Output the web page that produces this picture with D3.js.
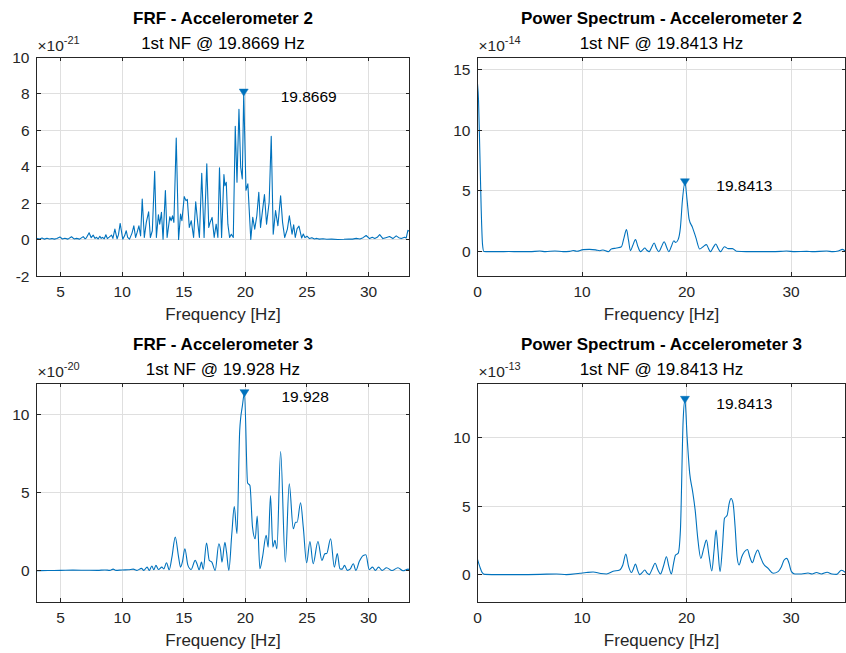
<!DOCTYPE html>
<html><head><meta charset="utf-8">
<script src="https://cdn.jsdelivr.net/npm/d3@7"></script>
<style>
body{margin:0;background:#fff}
svg{display:block}
text{font-family:"Liberation Sans",Arial,Helvetica,sans-serif;fill:#262626}
</style>
</head><body>
<svg id="chart" width="846" height="653"></svg>
<script>
// ---------- DATA ----------
const titles = ["FRF - Accelerometer 2","Power Spectrum - Accelerometer 2","FRF - Accelerometer 3","Power Spectrum - Accelerometer 3"];
const subtitles = ["1st NF @ 19.8669 Hz","1st NF @ 19.8413 Hz","1st NF @ 19.928 Hz","1st NF @ 19.8413 Hz"];
const exponents = ["-21","-14","-20","-13"];
const xLabel = "Frequency [Hz]";
const xTicksFRF = [5,10,15,20,25,30];
const xTicksPS = [0,10,20,30];
const yTicksFRF2 = [-2,0,2,4,6,8,10];
const yTicksPS2 = [0,5,10,15];
const yTicksFRF3 = [0,5,10];
const yTicksPS3 = [0,5,10];
const peakFreqs = [19.8669,19.8413,19.928,19.8413];
const peakLabels = ["19.8669","19.8413","19.928","19.8413"];

// [frequency (Hz), magnitude (x 10^exp)]
const frfAcc2 = [[3.05,0.06],[3.3,0.03],[3.5,0.08],[3.7,0.02],[3.9,0.07],[4.1,0.03],[4.3,0.05],[4.5,0.02],[4.7,0.06],[4.95,0.14],[5.15,0.03],[5.35,0.07],[5.6,0.02],[5.89,0.15],[6.1,0.03],[6.3,0.06],[6.55,0.02],[6.84,0.16],[7.0,0.04],[7.1,0.09],[7.32,0.37],[7.49,0.1],[7.65,0.24],[7.8,0.06],[7.92,0.12],[8.05,0.03],[8.19,0.18],[8.3,0.06],[8.4,0.12],[8.55,0.04],[8.68,0.26],[8.8,0.05],[8.95,0.13],[9.14,0.24],[9.25,0.06],[9.41,0.57],[9.59,0.04],[9.7,0.25],[9.84,0.88],[10.05,0.02],[10.2,0.2],[10.33,0.48],[10.45,0.12],[10.6,0.02],[10.8,0.35],[10.95,0.75],[11.09,0.11],[11.22,0.4],[11.36,0.75],[11.5,0.2],[11.63,2.22],[11.8,0.11],[11.96,0.94],[12.15,1.52],[12.29,0.11],[12.45,0.48],[12.64,3.74],[12.78,0.11],[12.94,1.36],[13.05,0.84],[13.19,1.49],[13.32,0.02],[13.51,2.68],[13.65,0.11],[13.87,1.25],[13.98,1.03],[14.09,1.3],[14.2,0.94],[14.39,5.56],[14.58,0.0],[14.74,1.39],[14.85,1.03],[15.04,2.35],[15.18,2.13],[15.29,2.2],[15.45,0.66],[15.61,1.03],[15.8,0.11],[15.97,2.07],[16.13,0.94],[16.27,0.11],[16.46,3.63],[16.65,0.11],[16.87,4.15],[17.03,0.66],[17.14,0.94],[17.3,1.21],[17.47,0.11],[17.63,0.84],[17.77,0.11],[17.9,3.93],[18.07,0.11],[18.26,3.56],[18.34,2.95],[18.45,3.13],[18.58,0.84],[18.72,0.11],[18.86,0.29],[19.02,0.11],[19.18,6.2],[19.32,3.14],[19.48,7.14],[19.62,3.96],[19.75,3.32],[19.8669,8.05],[20.05,2.7],[20.2,3.05],[20.44,0.0],[20.6,1.21],[20.76,0.57],[20.93,1.3],[21.09,2.59],[21.23,0.66],[21.39,1.58],[21.55,2.46],[21.72,0.84],[21.93,2.04],[22.1,5.65],[22.26,0.29],[22.45,1.58],[22.64,0.75],[22.86,2.39],[23.02,0.94],[23.19,0.11],[23.41,0.57],[23.57,1.3],[23.79,0.29],[23.92,0.8],[24.05,0.11],[24.2,0.6],[24.35,0.73],[24.57,0.08],[24.7,0.3],[24.84,0.1],[25.0,0.18],[25.2,0.05],[25.4,0.1],[25.6,0.03],[25.8,0.06],[26.0,0.02],[26.3,0.04],[26.6,0.01],[27.0,0.02],[27.5,0.0],[28.0,0.01],[28.4,0.03],[28.7,0.02],[29.0,0.06],[29.3,0.03],[29.55,0.1],[29.8,0.22],[30.08,0.05],[30.3,0.12],[30.5,0.06],[30.7,0.12],[30.9,0.27],[31.16,0.05],[31.4,0.1],[31.7,0.16],[31.97,0.05],[32.24,0.2],[32.45,0.1],[32.65,0.05],[32.92,0.12],[33.05,0.08],[33.19,0.5],[33.32,0.45]];

const psAcc2 = [[0,13.8],[0.1,12.4],[0.22,8.3],[0.35,3.6],[0.48,0.6],[0.61,0.02],[1.0,0.0],[2.0,0.0],[3.0,0.01],[4.0,0.0],[5.0,0.0],[5.96,0.05],[6.5,0.0],[7.4,0.06],[8.2,0.0],[8.8,0.02],[9.15,0.1],[9.5,0.03],[10.1,0.17],[10.7,0.19],[11.3,0.15],[11.7,0.08],[12.0,0.14],[12.5,0.0],[12.8,0.22],[13.3,0.3],[13.77,0.41],[14.0,1.1],[14.25,1.81],[14.45,0.9],[14.63,0.08],[14.85,0.5],[15.11,0.99],[15.35,0.4],[15.59,0.0],[15.8,0.15],[16.0,0.3],[16.2,0.12],[16.42,0.0],[16.65,0.35],[16.9,0.71],[17.1,0.3],[17.34,0.0],[17.6,0.4],[17.85,0.82],[18.1,0.35],[18.3,0.0],[18.55,0.45],[18.78,0.9],[18.95,0.75],[19.19,0.99],[19.41,2.0],[19.6,4.2],[19.8413,5.7],[20.05,4.2],[20.24,2.68],[20.56,2.0],[20.88,1.18],[21.26,0.22],[21.58,0.41],[21.9,0.58],[22.1,0.25],[22.28,0.0],[22.55,0.35],[22.8,0.63],[23.0,0.3],[23.24,0.0],[23.62,0.41],[23.97,0.25],[24.39,0.25],[24.77,0.03],[25.7,0.0],[27.0,0.0],[28.0,0.0],[29.0,0.02],[29.55,0.05],[30.35,0.0],[31.5,0.02],[32.0,0.0],[33.4,0.05],[34.0,0.0],[34.5,0.05],[34.9,0.19],[35.2,0.05]];

const frfAcc3 = [[3.05,0.0],[4.0,0.01],[5.0,0.02],[6.0,0.04],[7.0,0.03],[8.0,0.02],[8.6,0.05],[9.0,0.02],[9.27,0.1],[9.5,0.02],[10.0,0.05],[10.5,0.06],[10.9,0.1],[11.2,0.02],[11.57,0.15],[11.75,0.02],[12.03,0.23],[12.2,0.02],[12.41,0.3],[12.57,0.06],[12.74,0.34],[12.95,0.08],[13.22,0.23],[13.38,0.12],[13.6,0.51],[13.82,0.06],[14.04,0.87],[14.31,2.15],[14.58,0.87],[14.74,0.23],[14.9,0.6],[15.09,1.4],[15.34,0.34],[15.6,0.08],[15.93,0.66],[16.09,0.4],[16.25,0.06],[16.44,0.55],[16.58,0.08],[16.85,1.77],[17.07,0.66],[17.28,0.55],[17.55,0.02],[17.85,1.72],[17.99,1.3],[18.1,0.55],[18.34,1.81],[18.47,1.2],[18.66,0.02],[18.9,2.36],[19.1,4.1],[19.32,2.36],[19.54,8.96],[19.76,10.55],[19.928,11.35],[20.18,5.6],[20.37,5.45],[20.58,2.79],[20.8,2.04],[20.96,3.49],[21.18,0.13],[21.39,0.87],[21.69,2.26],[21.85,1.51],[22.04,4.81],[22.23,1.51],[22.4,1.94],[22.56,1.4],[22.86,7.62],[23.24,0.55],[23.56,5.55],[23.89,2.68],[24.07,3.1],[24.2,3.1],[24.48,4.34],[24.7,2.79],[24.97,0.51],[25.24,1.87],[25.5,0.45],[25.89,1.87],[26.21,0.66],[26.46,1.09],[26.6,1.1],[26.92,2.04],[27.22,0.23],[27.46,1.09],[27.67,0.13],[27.85,0.1],[28.05,0.34],[28.27,0.02],[28.5,0.1],[28.76,0.45],[28.97,0.02],[29.25,0.6],[29.57,0.98],[29.78,1.02],[30.05,0.08],[30.32,0.23],[30.55,0.02],[30.81,0.23],[31.1,0.02],[31.46,0.19],[31.9,0.01],[32.38,0.19],[32.8,0.0],[33.2,0.1],[33.32,0.06]];

const psAcc3 = [[0,1.12],[0.22,0.58],[0.45,0.15],[0.7,0.02],[2.0,0.0],[4.0,0.0],[6.0,0.02],[7.55,0.05],[8.5,0.0],[9.8,0.1],[10.4,0.15],[11.06,0.19],[11.8,0.08],[12.34,0.05],[12.97,0.24],[13.6,0.34],[13.9,0.7],[14.19,1.5],[14.45,0.6],[14.73,0.15],[14.9,0.4],[15.11,0.78],[15.3,0.35],[15.52,0.0],[15.75,0.15],[16.0,0.34],[16.2,0.12],[16.42,0.0],[16.7,0.4],[16.99,0.83],[17.25,0.35],[17.5,0.05],[17.8,0.65],[18.07,1.31],[18.3,0.6],[18.55,0.05],[18.75,0.8],[18.94,1.43],[19.19,1.55],[19.41,3.25],[19.67,11.26],[19.8413,12.77],[20.05,10.05],[20.3,7.38],[20.56,6.16],[20.82,4.71],[21.07,2.65],[21.36,1.19],[21.64,1.92],[21.9,2.52],[22.16,1.31],[22.41,0.27],[22.63,1.8],[22.82,3.25],[23.0,1.8],[23.2,0.22],[23.43,2.04],[23.62,4.1],[23.88,4.34],[24.07,5.19],[24.26,5.56],[24.45,5.19],[24.64,3.5],[24.83,1.31],[25.02,0.7],[25.28,1.31],[25.53,1.67],[25.82,1.84],[26.04,1.31],[26.3,0.87],[26.55,1.43],[26.8,1.8],[27.06,1.31],[27.32,0.83],[27.8,0.46],[28.28,0.1],[28.75,0.22],[29.07,0.58],[29.33,1.07],[29.58,1.19],[29.8,0.83],[30.03,0.22],[30.35,0.05],[31.0,0.05],[31.62,0.12],[32.0,0.05],[32.42,0.15],[32.9,0.05],[33.44,0.17],[33.9,0.05],[34.33,0.02],[34.81,0.32],[35.2,0.15]];

// ---------- LAYOUT ----------
const LINE = "#0072BD", AX = "#262626", GRID = "#dfdfdf";
const panels = [
  {data:frfAcc2, L:36.5, R:409.5, T:57, B:276, xd:[3.05,33.32], yd:[-2,10], xt:xTicksFRF, yt:yTicksFRF2, curve:d3.curveLinear},
  {data:psAcc2,  L:477.5, R:845.5, T:57, B:276, xd:[0,35.2], yd:[-2,16], xt:xTicksPS, yt:yTicksPS2, curve:d3.curveMonotoneX},
  {data:frfAcc3, L:36.5, R:409.5, T:383, B:602, xd:[3.05,33.32], yd:[-2,12], xt:xTicksFRF, yt:yTicksFRF3, curve:d3.curveMonotoneX},
  {data:psAcc3,  L:477.5, R:845.5, T:383, B:602, xd:[0,35.2], yd:[-2,14], xt:xTicksPS, yt:yTicksPS3, curve:d3.curveMonotoneX}
];

const svg = d3.select("#chart");
const TICK = 4, FS_TICK = 15.5, FS_TITLE = 17;

panels.forEach((p,i)=>{
  const x = d3.scaleLinear().domain(p.xd).range([p.L,p.R]);
  const y = d3.scaleLinear().domain(p.yd).range([p.B,p.T]);
  const g = svg.append("g");

  // grid
  g.selectAll(".gx").data(p.xt).enter().append("line")
    .attr("x1",d=>x(d)).attr("x2",d=>x(d)).attr("y1",p.T).attr("y2",p.B)
    .attr("stroke",GRID).attr("stroke-width",1).attr("shape-rendering","crispEdges");
  g.selectAll(".gy").data(p.yt).enter().append("line")
    .attr("y1",d=>y(d)).attr("y2",d=>y(d)).attr("x1",p.L).attr("x2",p.R)
    .attr("stroke",GRID).attr("stroke-width",1).attr("shape-rendering","crispEdges");

  // clip + data line
  const cid = "clip"+i;
  svg.append("clipPath").attr("id",cid).append("rect")
    .attr("x",p.L).attr("y",p.T).attr("width",p.R-p.L).attr("height",p.B-p.T);
  const line = d3.line().x(d=>x(d[0])).y(d=>y(d[1])).curve(p.curve);
  g.append("path").datum(p.data).attr("d",line).attr("fill","none")
    .attr("stroke",LINE).attr("stroke-width",1.1).attr("stroke-linejoin","round")
    .attr("clip-path",`url(#${cid})`);

  // box
  g.append("rect").attr("x",p.L).attr("y",p.T).attr("width",p.R-p.L).attr("height",p.B-p.T)
    .attr("fill","none").attr("stroke",AX).attr("stroke-width",1).attr("shape-rendering","crispEdges");

  // ticks (inward, all sides)
  p.xt.forEach(t=>{
    [[p.B,p.B-TICK],[p.T,p.T+TICK]].forEach(([a,b])=>
      g.append("line").attr("x1",x(t)).attr("x2",x(t)).attr("y1",a).attr("y2",b)
       .attr("stroke",AX).attr("shape-rendering","crispEdges"));
  });
  p.yt.forEach(t=>{
    [[p.L,p.L+TICK],[p.R,p.R-TICK]].forEach(([a,b])=>
      g.append("line").attr("y1",y(t)).attr("y2",y(t)).attr("x1",a).attr("x2",b)
       .attr("stroke",AX).attr("shape-rendering","crispEdges"));
  });

  // tick labels
  g.selectAll(".xl").data(p.xt).enter().append("text")
    .attr("x",d=>x(d)).attr("y",p.B+21).attr("text-anchor","middle")
    .attr("font-size",FS_TICK).text(d=>d);
  g.selectAll(".yl").data(p.yt).enter().append("text")
    .attr("x",p.L-7).attr("y",d=>y(d)).attr("dy","0.36em").attr("text-anchor","end")
    .attr("font-size",FS_TICK).text(d=>d);

  // x label
  const cx = (p.L+p.R)/2;
  g.append("text").attr("x",cx).attr("y",p.B+44).attr("text-anchor","middle")
    .attr("font-size",FS_TITLE).text(xLabel);

  // titles
  g.append("text").attr("x",cx).attr("y",p.T-33).attr("text-anchor","middle")
    .attr("font-size",FS_TITLE).attr("font-weight","bold").style("fill","#000").text(titles[i]);
  g.append("text").attr("x",cx).attr("y",p.T-8.5).attr("text-anchor","middle")
    .attr("font-size",FS_TITLE).style("fill","#000").text(subtitles[i]);

  // exponent
  const ex = g.append("text").attr("x",p.L+1).attr("y",p.T-6).attr("font-size",FS_TICK);
  ex.append("tspan").text("\u00d710");
  ex.append("tspan").attr("dy",-7).attr("font-size",11).text(exponents[i]);

  // peak marker + label
  const pk = p.data.find(d=>d[0]===peakFreqs[i]);
  const px = x(pk[0]), py = y(pk[1]);
  g.append("path").attr("d",`M${px-4.5},${py-3.5}L${px+4.5},${py-3.5}L${px},${py+3.5}Z`)
    .attr("fill",LINE).attr("stroke",LINE).attr("stroke-width",0.5);
  g.append("text").attr("x",x(pk[0]+3)).attr("y",py+3.5).attr("dy","0.36em")
    .attr("font-size",FS_TICK).style("fill","#000").text(peakLabels[i]);
});
</script>
</body></html>
